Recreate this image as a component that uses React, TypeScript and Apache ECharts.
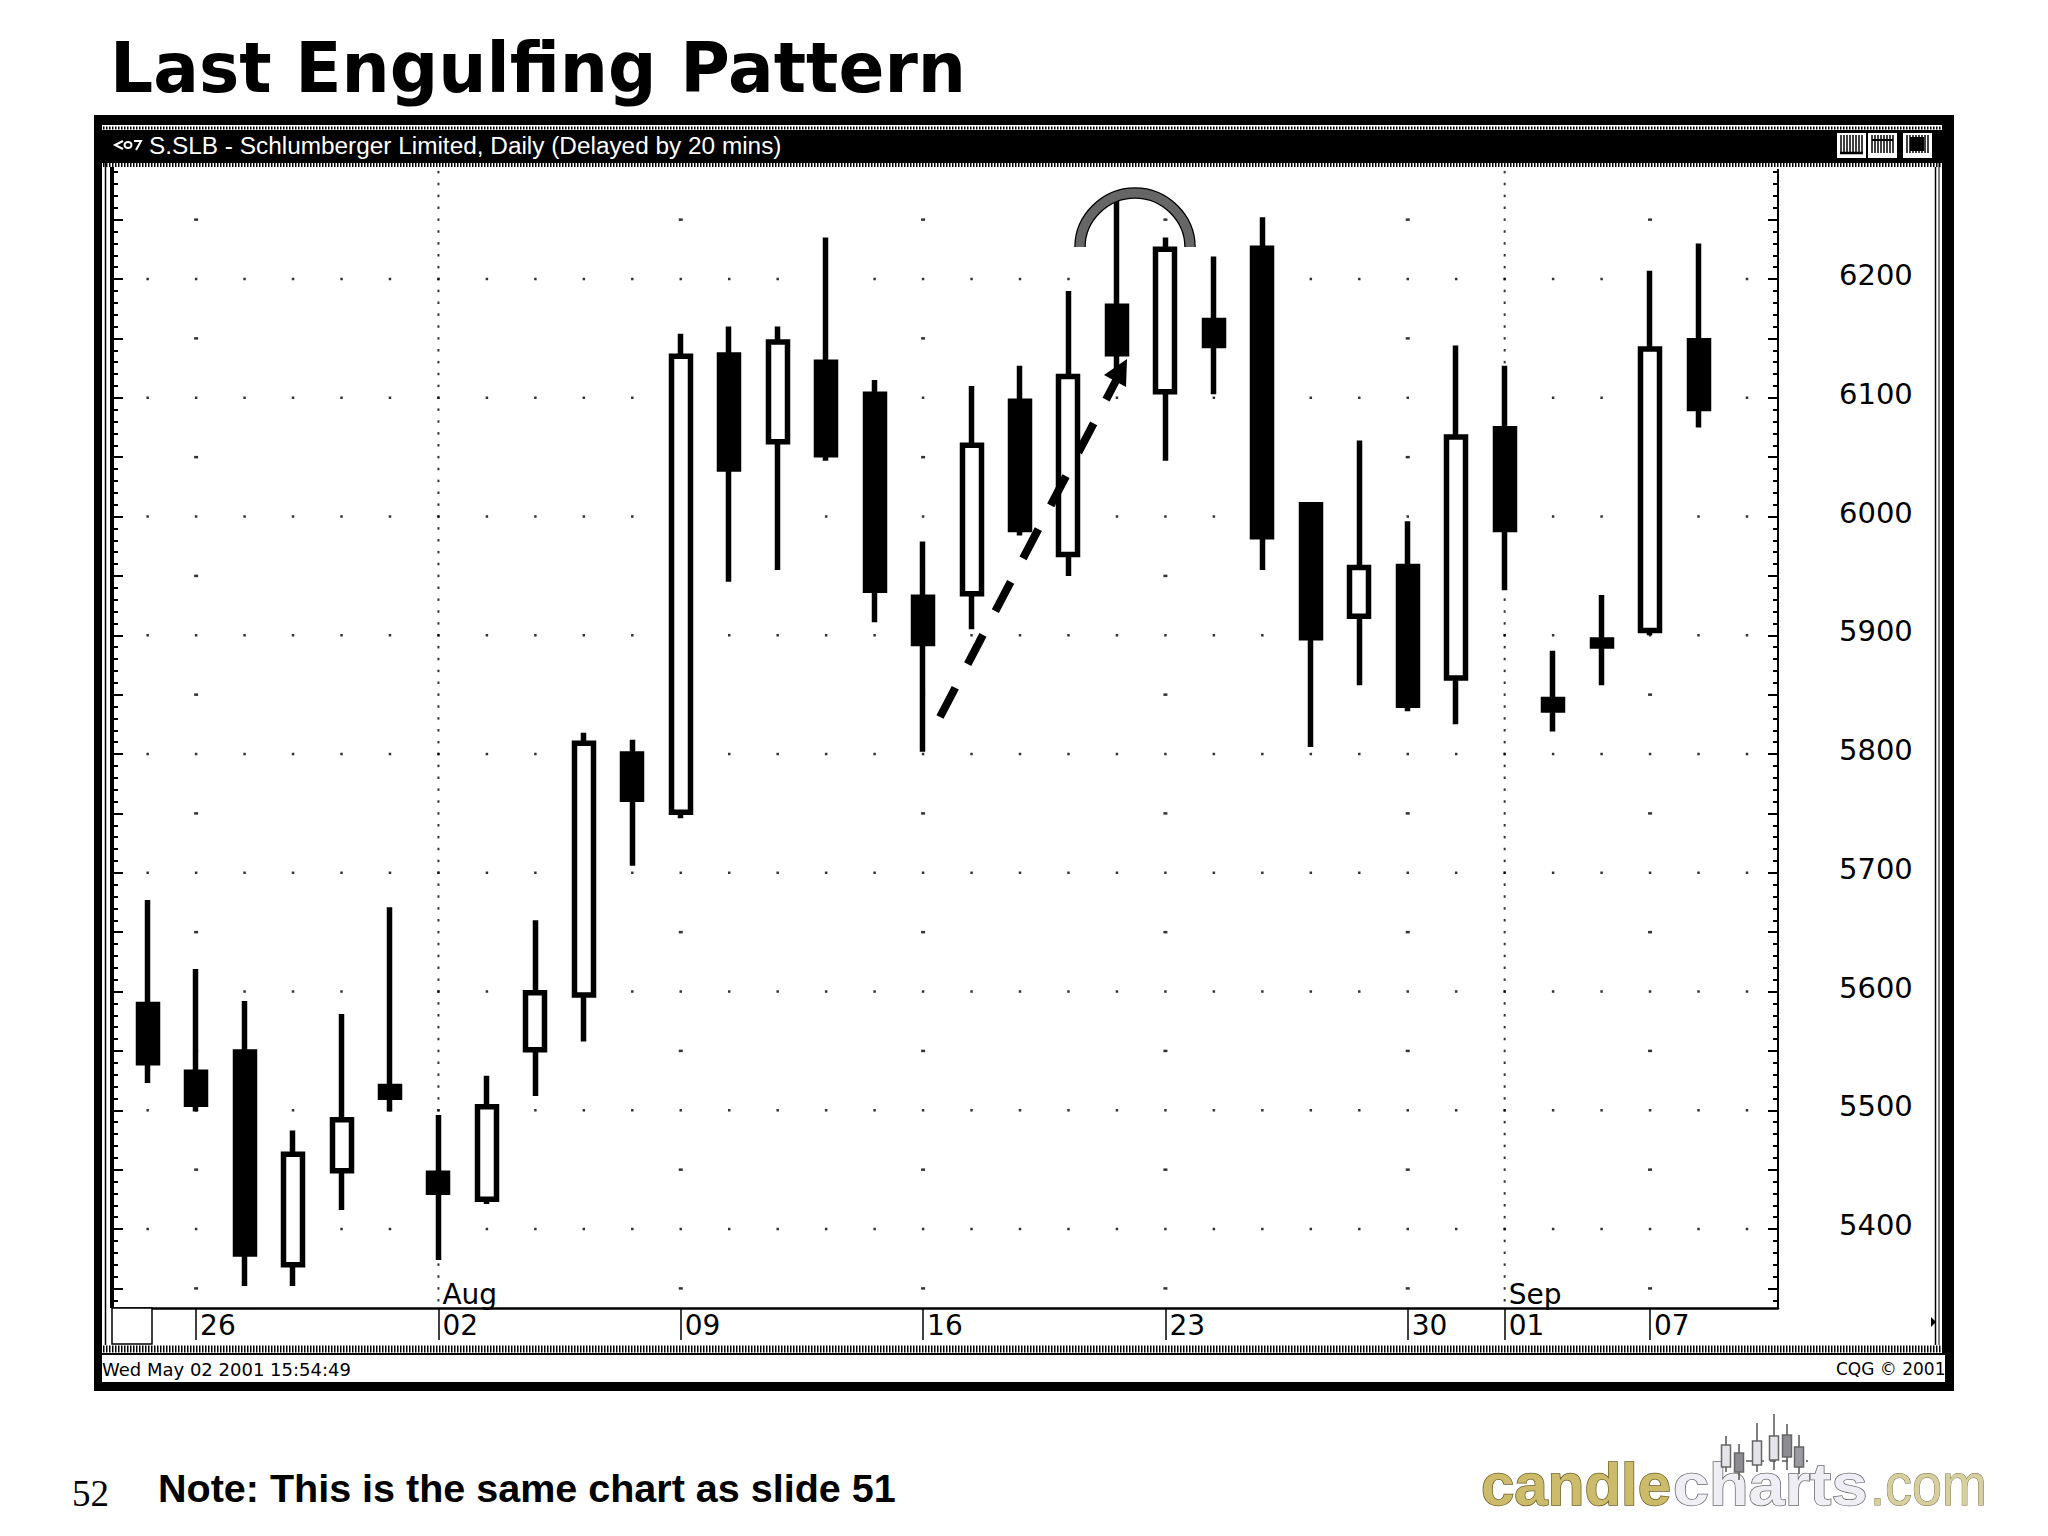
import React, { useEffect, useRef } from "react";
import * as echarts from "echarts";

const titleText = "Last Engulfing Pattern";
const windowTitle = "S.SLB - Schlumberger Limited, Daily (Delayed by 20 mins)";
const statusLeft = "Wed May 02 2001 15:54:49";
const statusRight = "CQG © 2001";
const noteText = "Note: This is the same chart as slide 51";
const slideNumber = "52";

// Each candle: open, close, low, high
const opens = [5589,5532,5549,5370,5449,5520,5447,5425,5551,5597,5800,5751,6136,6063,6130,6103,5932,5935,6097,5968,6177,6105,6165,6226,6010,5916,5958,5864,6074,5846,5896,5904,6148];
const closes = [5540,5505,5379,5463,5492,5511,5431,5503,5599,5809,5762,6135,6040,6147,6052,5938,5893,6060,5989,6118,6137,6225,6144,5983,5898,5957,5841,6067,5989,5837,5891,6141,6091];
const lows = [5523,5499,5352,5352,5416,5499,5374,5421,5512,5558,5706,5746,5945,5955,6047,5911,5802,5905,5984,5950,6115,6047,6103,5955,5806,5858,5836,5825,5938,5819,5858,5900,6075];
const highs = [5677,5619,5592,5483,5581,5671,5496,5529,5660,5818,5812,6154,6160,6160,6235,6115,5979,6110,6127,6190,6270,6235,6219,6252,6012,6064,5996,6144,6127,5887,5934,6207,6230];

const dateTicks = [1, 6, 11, 16, 21, 26, 28, 31];
const dateLabels = ["26", "02", "09", "16", "23", "30", "01", "07"];
const monthTicks = [6, 28];
const monthLabels = ["Aug", "Sep"];
const priceLabels = [5400, 5500, 5600, 5700, 5800, 5900, 6000, 6100, 6200];
const midLevels = [5350, 5450, 5550, 5650, 5750, 5850, 5950, 6050, 6150, 6250];
const weeklyDots = [1, 11, 16, 21, 26, 31];
const dottedColumns = [6, 28];

const Y_MIN = 5333.5;
const Y_MAX = 6291.8;
const X_MIN = -0.715;
const X_MAX = 33.64;

const fine: number[] = [];
for (let v = 5340; v <= 6290; v += 10) fine.push(v);
const majors = [...midLevels, ...priceLabels].sort((a, b) => a - b);

const dotsMain: number[][] = [];
for (const p of priceLabels) for (let i = 0; i <= 33; i++) dotsMain.push([i, p]);
const dotsMid: number[][] = [];
for (const p of midLevels) for (const i of weeklyDots) dotsMid.push([i, p]);
const dotsCol: number[][] = [];
for (const i of dottedColumns) for (const v of fine) dotsCol.push([i, v]);

const DJ = '"DejaVu Sans"';
const LS = '"Liberation Sans"';

function txt(text: string, x: number, y: number, font: string, fill: string, extra: any = {}, scaleX = 1) {
  return { type: "text", z: 60, x, y, scaleX, style: { text, x: 0, y: 0, font, fill, align: "left", verticalAlign: "middle", ...extra } };
}
function box(x: number, y: number, w: number, h: number, fill: string, z = -10, extra: any = {}) {
  return { type: "rect", z, shape: { x, y, width: w, height: h }, style: { fill, ...extra } };
}
function seg(x1: number, y1: number, x2: number, y2: number, stroke: string, lineWidth: number, z = -9, extra: any = {}) {
  return { type: "line", z, shape: { x1, y1, x2, y2 }, style: { stroke, lineWidth, ...extra } };
}

echarts.graphic.registerShape("capArc", echarts.graphic.extendPath(
  "M1080 247 C1080 218 1105 193 1135 193 C1165 193 1190 218 1190 247", {}) as any);

function stipple() {
  const d = { lineDash: [1.5, 1.5] };
  return [
    seg(103, 128, 1942, 128, "#000", 3, -8, d),
    seg(103, 165, 1942, 165, "#000", 4, -8, d),
    seg(103, 1349, 1942, 1349, "#000", 7, -8, d),
    seg(105.5, 130, 105.5, 1345, "#000", 1.5, -8),
    seg(1939, 130, 1939, 1345, "#000", 1, -8),
  ];
}

function buttons() {
  const out: any[] = [];
  for (const [x, w] of [[1837, 29], [1868, 29], [1903, 29]]) {
    out.push(box(x, 133, w, 25, "#fff", -7));
    for (let k = 4; k < w - 2; k += 3) out.push(seg(x + k, 135, x + k, 153, "#000", 1.5, -6));
  }
  out.push(seg(1840, 153, 1863, 153, "#000", 2.5, -6));
  out.push(seg(1872, 140, 1893, 140, "#000", 2, -6));
  out.push(box(1910, 137, 14, 14, "#000", -6));
  return out;
}

function logo() {
  const out: any[] = [];
  const f = `bold 60px ${LS}`;
  out.push(txt("candle", 1481, 1484, f, "#cdbb6c", { stroke: "#6d6128", lineWidth: 1.5 }));
  out.push(txt("charts", 1673, 1484, f, "#eeeef4", { stroke: "#6b6b70", lineWidth: 1.5 }, 1.08));
  out.push(txt(".com", 1870, 1484, `60px ${LS}`, "#d7cf9f", { stroke: "#77703f", lineWidth: 1 }, 0.9));
  // [x, wick top, body top, body bottom, wick bottom, fill]
  const candles: [number, number, number, number, number, string][] = [
    [1726, 1436, 1445, 1467, 1472, "#e4e4ea"],
    [1739, 1444, 1453, 1472, 1480, "#8c8c92"],
    [1757, 1423, 1441, 1465, 1472, "#e4e4ea"],
    [1774, 1414, 1436, 1460, 1470, "#e4e4ea"],
    [1787, 1424, 1435, 1457, 1470, "#8c8c92"],
    [1799, 1435, 1447, 1467, 1474, "#9a9aa0"],
  ];
  out.push(seg(1722, 1461, 1808, 1461, "#555", 1.5, 62, { lineDash: [6, 6] }));
  for (const [x, wt, bt, bb, wb, fill] of candles) {
    out.push(seg(x, wt, x, wb, "#555", 1.5, 62));
    out.push({ type: "rect", z: 63, shape: { x: x - 4.5, y: bt, width: 9, height: bb - bt }, style: { fill, stroke: "#666", lineWidth: 1.5 } });
  }
  return out;
}

const graphicEls: any[] = [
  txt(titleText, 110, 68, `bold 70px ${DJ}`, "#000", {}, 0.968),
  box(94, 115, 1860, 1276, "#000", -12),
  box(102, 125, 1840, 5, "#fff", -11),
  box(102, 163, 1840, 1182, "#fff", -11),
  box(102, 1345, 1840, 8, "#fff", -11),
  box(102, 1355, 1843, 27, "#fff", -11),
  ...stipple(),
  seg(112, 167, 112, 1308, "#000", 4, -7),
  seg(1935.5, 167, 1935.5, 1345, "#000", 1.5, -7),
  { type: "polyline", z: 60, shape: { points: [[123, 141], [115, 145], [123, 149]] }, style: { stroke: "#fff", lineWidth: 2, fill: "none" } },
  { type: "ellipse", z: 60, shape: { cx: 128, cy: 145, rx: 3.5, ry: 3 }, style: { stroke: "#fff", lineWidth: 2, fill: "none" } },
  { type: "polyline", z: 60, shape: { points: [[134, 141], [141, 141], [136, 150]] }, style: { stroke: "#fff", lineWidth: 2, fill: "none" } },
  txt(windowTitle, 149, 146, `23px ${LS}`, "#fff", {}, 1.06),
  ...buttons(),
  { type: "rect", z: 20, shape: { x: 112, y: 1308, width: 40, height: 36 }, style: { fill: "#fff", stroke: "#000", lineWidth: 1.5 } },
  { type: "polygon", z: 20, shape: { points: [[1931, 1317], [1936, 1322], [1931, 1327]] }, style: { fill: "#000" } },
  txt(statusLeft, 102, 1369, `18px ${DJ}`, "#000"),
  txt(statusRight, 1836, 1369, `17px ${DJ}`, "#000"),
  txt(slideNumber, 72, 1493, `37px "Liberation Serif"`, "#000"),
  txt(noteText, 158, 1489, `bold 38px ${LS}`, "#000", {}, 1.04),
  seg(940, 717, 1120, 373, "#000", 8, 30, { lineDash: [33, 26.7] }),
  { type: "polygon", z: 30, shape: { points: [[1127, 359], [1104, 375], [1126, 387]] }, style: { fill: "#000" } },
  { type: "capArc", z: 31, style: { stroke: "#000", lineWidth: 11.5, fill: "none" } },
  { type: "capArc", z: 32, style: { stroke: "#666", lineWidth: 9, fill: "none" } },
  ...logo(),
];

function yAxis(position: string, tickValues: number[], len: number, withLabels: boolean) {
  return {
    type: "value", position, min: Y_MIN, max: Y_MAX, scale: true,
    splitLine: { show: false },
    axisLine: { show: true, onZero: false, lineStyle: { color: "#000", width: 2 } },
    axisTick: { show: true, inside: true, length: len, customValues: tickValues, lineStyle: { color: "#000", width: 2 } },
    axisLabel: withLabels
      ? { show: true, customValues: priceLabels, margin: 61, align: "left", verticalAlign: "bottom", lineHeight: 8, color: "#000", fontFamily: "DejaVu Sans", fontSize: 29, formatter: (v: number) => String(Math.round(v)) }
      : { show: false },
  };
}

function dotSeries(data: number[][], size: number[]) {
  return { type: "scatter", data, symbol: "rect", symbolSize: size, silent: true, z: 1, itemStyle: { color: "#000" } };
}

export default function App() {
  const ref = useRef<HTMLDivElement>(null);
  useEffect(() => {
    document.body.style.margin = "0";
    const chart = echarts.init(ref.current!, undefined, { renderer: "svg" });
    chart.setOption({
      animation: false,
      backgroundColor: "#fff",
      grid: { left: 113, top: 170, width: 1665, height: 1138, show: false },
      xAxis: [
        {
          type: "value", min: X_MIN, max: X_MAX, scale: true, position: "bottom",
          splitLine: { show: false },
          axisLine: { show: true, onZero: false, lineStyle: { color: "#000", width: 2.5 } },
          axisTick: { show: true, length: 32, customValues: dateTicks, lineStyle: { color: "#000", width: 1.5 } },
          axisLabel: {
            show: true, customValues: dateTicks, margin: 3, align: "left", color: "#000", fontFamily: "DejaVu Sans", fontSize: 28, padding: [0, 0, 0, 4],
            formatter: (v: number) => dateLabels[dateTicks.indexOf(Math.round(v))] ?? "",
          },
        },
        {
          type: "value", min: X_MIN, max: X_MAX, scale: true, position: "bottom",
          splitLine: { show: false }, axisLine: { show: false }, axisTick: { show: false },
          axisLabel: {
            show: true, inside: true, customValues: monthTicks, margin: 0, align: "left", color: "#000", fontFamily: "DejaVu Sans", fontSize: 28, padding: [0, 0, 0, 4],
            formatter: (v: number) => monthLabels[monthTicks.indexOf(Math.round(v))] ?? "",
          },
        },
      ],
      yAxis: [
        yAxis("left", fine, 5, false),
        yAxis("right", fine, 5, true),
        yAxis("left", majors, 10, false),
        yAxis("right", majors, 10, false),
      ],
      series: [
        dotSeries(dotsMain, [2.5, 2.5]),
        dotSeries(dotsMid, [4, 2.5]),
        dotSeries(dotsCol, [2, 2.5]),
        {
          type: "candlestick", z: 5, silent: true,
          barWidth: 19.5,
          data: opens.map((o, i) => [i, o, closes[i], lows[i], highs[i]]),
          itemStyle: { color: "#fff", color0: "#000", borderColor: "#000", borderColor0: "#000", borderWidth: 5.5 },
        },
      ],
      graphic: { elements: graphicEls },
    });
    return () => chart.dispose();
  }, []);
  return <div ref={ref} style={{ width: 2048, height: 1536 }} />;
}
